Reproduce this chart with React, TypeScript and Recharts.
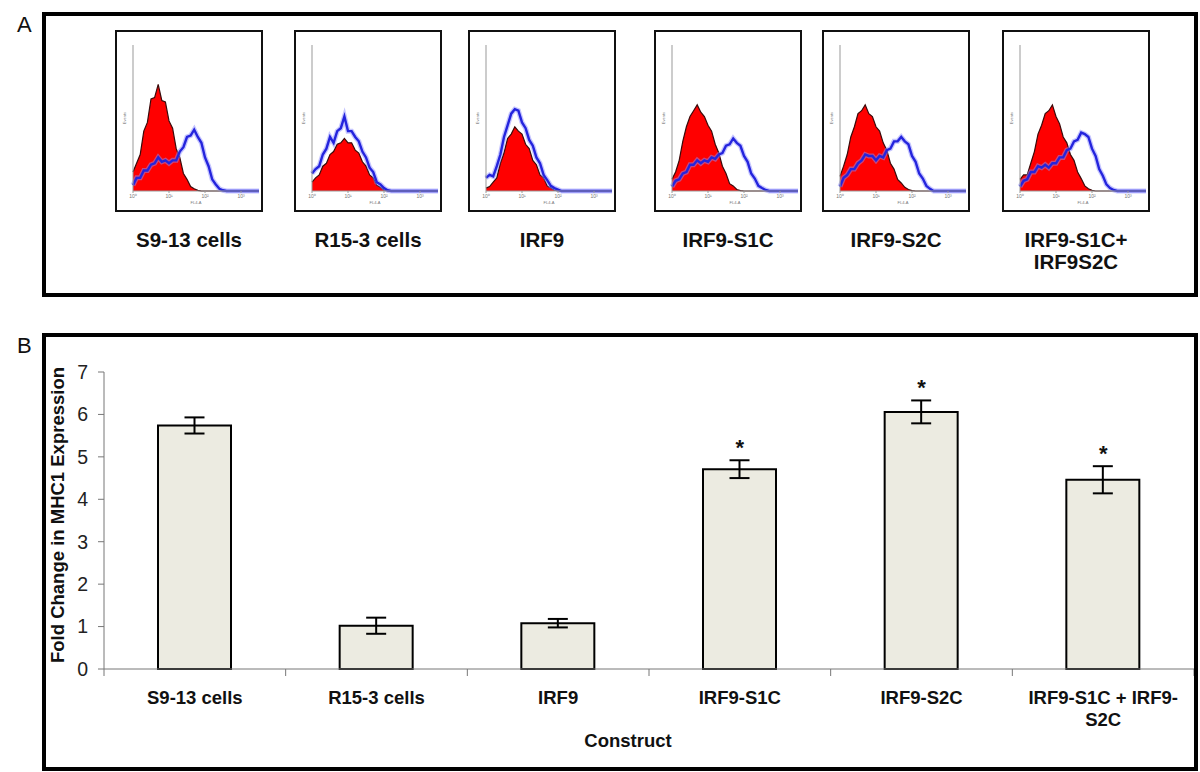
import React from 'react';
import {
  ComposedChart,
  Area,
  Line,
  Bar,
  ErrorBar,
  Scatter,
  XAxis,
  YAxis
} from 'recharts';

// panel A: flow histograms, x in log decades (10^0 .. 10^3.5), y in % of axis height
const HIST_X = [0, 0.1, 0.2, 0.3, 0.4, 0.5, 0.6, 0.7, 0.8, 0.9, 1.0, 1.1, 1.2, 1.3, 1.4, 1.5, 1.6, 1.7, 1.8, 1.9, 2.0, 2.1, 2.2, 2.3, 2.4, 2.5, 2.6, 2.7, 2.8, 3.5];

const S913_RED = [13, 19, 25, 41, 47, 63, 64, 73, 62, 61, 48, 43, 29, 23, 12, 8, 3, 1.5, 0.4, 0, 0, 0, 0, 0, 0, 0, 0, 0, 0, 0];
const S913_BLUE = [4, 9, 9, 14, 14, 18, 19, 23, 20, 21, 19, 21, 21, 27, 30, 37, 38, 42, 37, 33, 23, 17, 8, 4.5, 1.5, 0.5, 0, 0, 0, 0];

const R153_RED = [6, 9, 11, 17, 19, 25, 27, 32, 33, 36, 33, 33, 28, 26, 20, 17, 11, 9, 4, 2.5, 0.5, 0, 0, 0, 0, 0, 0, 0, 0, 0];
const R153_BLUE = [12, 15, 17, 25, 29, 37, 33, 41, 43, 51, 41, 41, 37, 34, 27, 23, 16, 13, 6, 4.5, 2, 0.5, 0, 0, 0, 0, 0, 0, 0, 0];

const IRF9_RED = [2, 3, 6, 9, 19, 26, 36, 39, 44, 41, 39, 32, 29, 21, 18, 11, 9, 3.5, 2, 0.5, 0, 0, 0, 0, 0, 0, 0, 0, 0, 0];
const IRF9_BLUE = [9, 11, 10, 17, 25, 37, 45, 53, 56, 55, 47, 43, 35, 31, 23, 19, 11, 7.5, 3.5, 2, 1, 0, 0, 0, 0, 0, 0, 0, 0, 0];

const S1C_RED = [8, 13, 21, 34, 44, 51, 55, 59, 54, 51, 45, 41, 32, 26, 17, 12, 5, 3.5, 1, 0.3, 0, 0, 0, 0, 0, 0, 0, 0, 0, 0];
const S1C_BLUE = [3, 7, 8, 12, 13, 18, 18, 21, 19, 21, 20, 23, 22, 25, 26, 31, 32, 36, 33, 31, 24, 20, 12, 8.5, 3.5, 2, 0.7, 0, 0, 0];

const S2C_RED = [10, 17, 25, 37, 44, 53, 55, 59, 53, 51, 44, 41, 33, 28, 19, 15, 8, 5.5, 2.5, 1, 0.3, 0, 0, 0, 0, 0, 0, 0, 0, 0];
const S2C_BLUE = [3, 9, 11, 15, 15, 19, 21, 25, 24, 24, 21, 24, 23, 28, 29, 34, 34, 37, 34, 32, 24, 20, 12, 8.5, 3.5, 1.5, 0, 0, 0, 0];

const BOTH_RED = [8, 11, 11, 19, 27, 39, 45, 53, 55, 59, 51, 46, 37, 33, 25, 21, 13, 8.5, 3.5, 1.5, 0.4, 0, 0, 0, 0, 0, 0, 0, 0, 0];
const BOTH_BLUE = [3, 7, 8, 13, 13, 17, 16, 18, 16, 19, 19, 23, 23, 28, 29, 34, 35, 40, 39, 37, 29, 24, 15, 10.5, 4.5, 2, 0.7, 0, 0, 0];

const HIST_LABELS = ['S9-13 cells', 'R15-3 cells', 'IRF9', 'IRF9-S1C', 'IRF9-S2C', 'IRF9-S1C+\nIRF9S2C'];
const HIST_RED = [S913_RED, R153_RED, IRF9_RED, S1C_RED, S2C_RED, BOTH_RED];
const HIST_BLUE = [S913_BLUE, R153_BLUE, IRF9_BLUE, S1C_BLUE, S2C_BLUE, BOTH_BLUE];
const DECADE_LABELS = ['10\u2070', '10\u00b9', '10\u00b2', '10\u00b3'];

// panel B: fold change in MHC1 expression
const CONSTRUCTS = ['S9-13 cells', 'R15-3 cells', 'IRF9', 'IRF9-S1C', 'IRF9-S2C', 'IRF9-S1C + IRF9-\nS2C'];
const MHC1_FOLD = [5.74, 1.02, 1.08, 4.71, 6.06, 4.46];
const MHC1_ERR = [0.19, 0.19, 0.1, 0.21, 0.27, 0.32];
const SIGNIFICANT = [false, false, false, true, true, true];
const Y_TICKS = [0, 1, 2, 3, 4, 5, 6, 7];

const BOX_LEFT = [115, 294, 468, 654, 822, 1002];
const FONT = 'Arial, "Liberation Sans", sans-serif';
const BAR_CHART_W = 1194;
const Y_AXIS_W = 104;

const Histogram = ({ red, blue, left }: { red: number[]; blue: number[]; left: number }) => {
  const rows = HIST_X.map((x, i) => ({ x, red: red[i], blue: blue[i] }));
  return (
    <div
      style={{
        position: 'absolute',
        left,
        top: 30,
        width: 148,
        height: 182,
        boxSizing: 'border-box',
        border: '2px solid #111',
        background: '#fff'
      }}
    >
      <ComposedChart width={144} height={178} data={rows} margin={{ top: 13, right: 2, bottom: 0, left: 0 }}>
        <XAxis
          dataKey="x"
          type="number"
          domain={[0, 3.5]}
          ticks={[0, 1, 2, 3]}
          height={19}
          stroke="#999"
          tickSize={2}
          tickMargin={1}
          tick={{ fontSize: 5, fill: '#777', fontFamily: FONT }}
          tickFormatter={(v: number) => DECADE_LABELS[v]}
          label={{ value: 'FL4-A', position: 'insideBottom', offset: 6, fontSize: 4, fill: '#777' }}
        />
        <YAxis
          type="number"
          domain={[0, 100]}
          ticks={[0, 25, 50, 75, 100]}
          width={16}
          stroke="#999"
          tickSize={2}
          tick={false}
          label={{ value: 'Events', angle: -90, position: 'center', fontSize: 4, fill: '#777' }}
        />
        <Area
          dataKey="red"
          type="linear"
          fill="#ff0000"
          fillOpacity={1}
          stroke="#3a0a0a"
          strokeWidth={1.2}
          dot={false}
          activeDot={false}
          isAnimationActive={false}
        />
        <Line
          key="halo"
          dataKey="blue"
          type="linear"
          stroke="#8c8cff"
          strokeOpacity={0.5}
          strokeWidth={5}
          dot={false}
          activeDot={false}
          isAnimationActive={false}
        />
        <Line
          key="core"
          dataKey="blue"
          type="linear"
          stroke="#2424dd"
          strokeWidth={2.4}
          dot={false}
          activeDot={false}
          isAnimationActive={false}
        />
      </ComposedChart>
    </div>
  );
};

const CategoryTick = (props: any) => {
  const { x, y, index, payload } = props;
  const band = (BAR_CHART_W - Y_AXIS_W) / CONSTRUCTS.length;
  const lines = String(payload.value).split('\n');
  return (
    <g>
      <line x1={x - band / 2} x2={x - band / 2} y1={y} y2={y + 7} stroke="#777" />
      {index === CONSTRUCTS.length - 1 && (
        <line x1={x + band / 2} x2={x + band / 2} y1={y} y2={y + 7} stroke="#777" />
      )}
      <text textAnchor="middle" fontSize={18.5} fontWeight="bold" fill="#111" fontFamily={FONT}>
        {lines.map((l, i) => (
          <tspan key={i} x={x} y={y + 35 + i * 22}>
            {l}
          </tspan>
        ))}
      </text>
    </g>
  );
};

const Star = (props: any) => {
  const { cx, cy } = props;
  if (cx == null || cy == null) return null;
  return (
    <text x={cx} y={cy - 5} textAnchor="middle" fontSize={22} fontWeight="bold" fill="#111" fontFamily={FONT}>
      *
    </text>
  );
};

export default function App() {
  const barRows = CONSTRUCTS.map((name, i) => ({
    name,
    fold: MHC1_FOLD[i],
    err: MHC1_ERR[i],
    star: SIGNIFICANT[i] ? MHC1_FOLD[i] + MHC1_ERR[i] : null
  }));

  return (
    <div
      style={{
        position: 'absolute',
        left: 0,
        top: 0,
        width: 1200,
        height: 772,
        background: '#fff',
        fontFamily: FONT,
        color: '#111'
      }}
    >
      <div style={{ position: 'absolute', left: 17, top: 14, fontSize: 22, lineHeight: '22px' }}>A</div>
      <div style={{ position: 'absolute', left: 17, top: 335, fontSize: 22, lineHeight: '22px' }}>B</div>

      <div
        style={{
          position: 'absolute',
          left: 42,
          top: 12,
          width: 1156,
          height: 285,
          boxSizing: 'border-box',
          border: '4px solid #000'
        }}
      />
      <div
        style={{
          position: 'absolute',
          left: 42,
          top: 333,
          width: 1156,
          height: 438,
          boxSizing: 'border-box',
          border: '4px solid #000'
        }}
      />

      {HIST_LABELS.map((label, i) => (
        <React.Fragment key={label}>
          <Histogram red={HIST_RED[i]} blue={HIST_BLUE[i]} left={BOX_LEFT[i]} />
          <div
            style={{
              position: 'absolute',
              left: BOX_LEFT[i] + 74,
              top: 229,
              transform: 'translateX(-50%)',
              whiteSpace: 'pre',
              textAlign: 'center',
              fontSize: 20.5,
              fontWeight: 'bold',
              lineHeight: '22px'
            }}
          >
            {label}
          </div>
        </React.Fragment>
      ))}

      <div style={{ position: 'absolute', left: 0, top: 333 }}>
        <ComposedChart width={BAR_CHART_W} height={436} data={barRows} margin={{ top: 39, right: 0, bottom: 0, left: 0 }}>
          <XAxis
            dataKey="name"
            height={100}
            stroke="#777"
            tickLine={false}
            tickSize={0}
            tickMargin={0}
            interval={0}
            tick={<CategoryTick />}
          />
          <YAxis
            type="number"
            domain={[0, 7]}
            ticks={Y_TICKS}
            interval={0}
            width={Y_AXIS_W}
            stroke="#777"
            tickSize={6}
            tickMargin={10}
            tick={{ fontSize: 19.5, fill: '#222', fontFamily: FONT }}
          />
          <Bar dataKey="fold" barSize={73} fill="#ecebe1" stroke="#000" strokeWidth={2} isAnimationActive={false}>
            <ErrorBar dataKey="err" width={10} stroke="#000" strokeWidth={2} />
          </Bar>
          <Scatter dataKey="star" shape={<Star />} isAnimationActive={false} />
        </ComposedChart>
      </div>

      <div
        style={{
          position: 'absolute',
          left: 58,
          top: 515,
          transform: 'translate(-50%, -50%) rotate(-90deg)',
          whiteSpace: 'nowrap',
          fontSize: 18.5,
          fontWeight: 'bold',
          lineHeight: '20px'
        }}
      >
        Fold Change in MHC1 Expression
      </div>
      <div
        style={{
          position: 'absolute',
          left: 628,
          top: 741,
          transform: 'translate(-50%, -50%)',
          fontSize: 18.5,
          fontWeight: 'bold',
          lineHeight: '20px'
        }}
      >
        Construct
      </div>
    </div>
  );
}
